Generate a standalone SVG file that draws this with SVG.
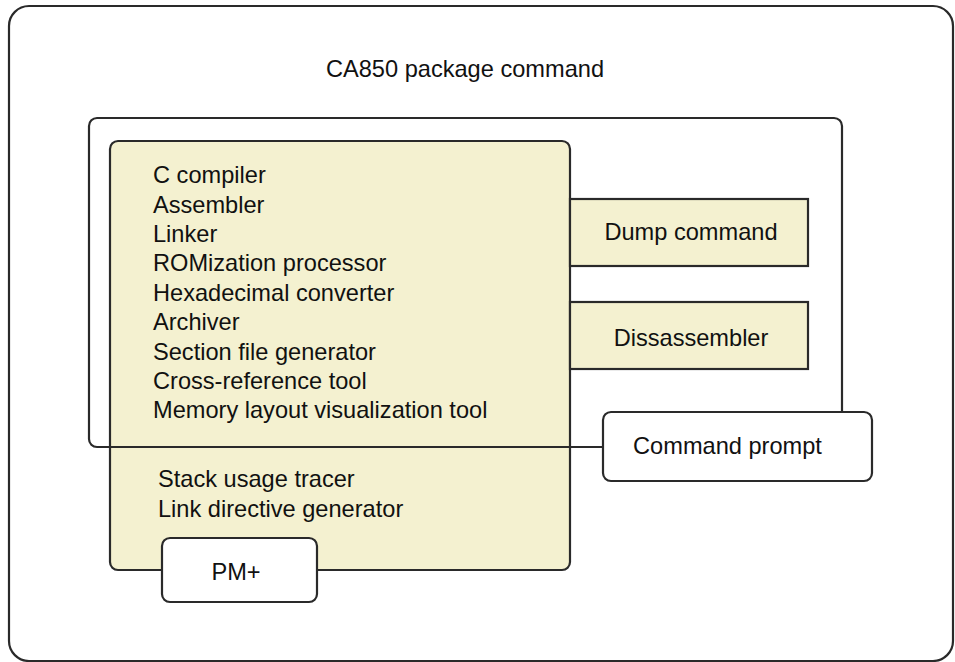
<svg xmlns="http://www.w3.org/2000/svg" width="955" height="662" viewBox="0 0 955 662">
<style>
.box{stroke:#2a2a2a;stroke-width:2.2;}
.y{fill:#f4f1d0;}
.w{fill:#ffffff;}
.n{fill:none;}
text{font-family:"Liberation Sans",Arial,Helvetica,sans-serif;font-size:23.6px;fill:#111;}
.c{text-anchor:middle;}
</style>
<rect width="955" height="662" fill="#ffffff"/>
<g id="outer">
<rect class="box w" x="9" y="6" width="944" height="655" rx="20"/>
<text class="c" x="465" y="77">CA850 package command</text>
</g>
<g id="tools">
<rect class="box y" x="110" y="141" width="460" height="429" rx="8"/>
<text x="153" y="183.3">C compiler</text>
<text x="153" y="212.7">Assembler</text>
<text x="153" y="242.1">Linker</text>
<text x="153" y="271.4">ROMization processor</text>
<text x="153" y="300.8">Hexadecimal converter</text>
<text x="153" y="330.2">Archiver</text>
<text x="153" y="359.6">Section file generator</text>
<text x="153" y="388.9">Cross-reference tool</text>
<text x="153" y="418.3">Memory layout visualization tool</text>
<text x="158" y="486.7">Stack usage tracer</text>
<text x="158" y="516.7">Link directive generator</text>
</g>
<g id="package">
<rect class="box n" x="89" y="118" width="753" height="329" rx="8"/>
</g>
<g id="dump">
<rect class="box y" x="570" y="199" width="238" height="67"/>
<text class="c" x="691" y="240">Dump command</text>
</g>
<g id="disasm">
<rect class="box y" x="570" y="302" width="238" height="67"/>
<text class="c" x="691" y="345.5">Dissassembler</text>
</g>
<g id="prompt">
<rect class="box w" x="603" y="412" width="269" height="69" rx="8"/>
<text class="c" x="727.5" y="454">Command prompt</text>
</g>
<g id="pm">
<rect class="box w" x="162" y="538" width="155" height="64" rx="8"/>
<text class="c" x="236" y="580">PM+</text>
</g>
<g id="connectors"></g>
</svg>
